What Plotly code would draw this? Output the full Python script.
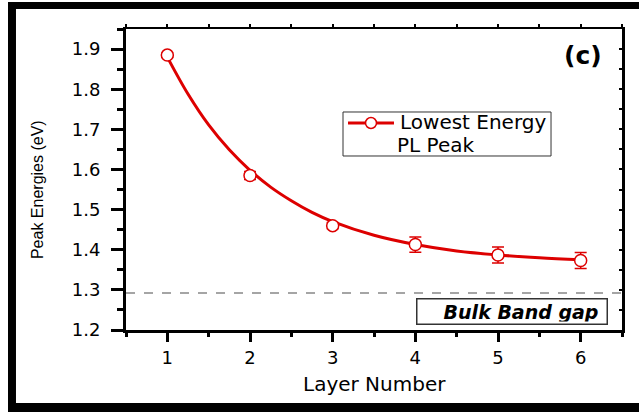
import plotly.graph_objects as go

# Data
layers = [1, 2, 3, 4, 5, 6]
peak_energy = [1.885, 1.585, 1.460, 1.413, 1.387, 1.373]
peak_err = [0.005, 0.010, 0.008, 0.019, 0.020, 0.020]

# Fitted curve
fit_x = [1, 1.25, 1.5, 1.75, 2, 2.25, 2.5, 2.75, 3, 3.5, 4, 4.5, 5, 5.5, 6]
fit_y = [1.880, 1.788, 1.711, 1.649, 1.598, 1.556, 1.522, 1.493, 1.470,
         1.436, 1.413, 1.397, 1.387, 1.380, 1.375]

bulk_gap = 1.292

x_ticks = [1, 2, 3, 4, 5, 6]
y_ticks = [1.2, 1.3, 1.4, 1.5, 1.6, 1.7, 1.8, 1.9]

legend_lines = ["Lowest Energy", "PL Peak"]

RED = "#dd0000"
WIDE = "DejaVu Sans, Verdana, sans-serif"
NARROW = "Liberation Sans, Arial, sans-serif"

fig = go.Figure()

fig.add_trace(go.Scatter(
    x=fit_x, y=fit_y, mode="lines", line=dict(color=RED, width=3, shape="spline"),
    showlegend=False, hoverinfo="skip"))

fig.add_trace(go.Scatter(
    x=layers, y=peak_energy, mode="markers", name=" ".join(legend_lines),
    marker=dict(symbol="circle", size=12, color="white", line=dict(width=1.5, color=RED)),
    error_y=dict(type="data", array=peak_err, color=RED, thickness=1.5, width=6),
    showlegend=False))

# dashed bulk band-gap line
fig.add_shape(type="line", xref="paper", x0=0, x1=1, yref="y", y0=bulk_gap, y1=bulk_gap,
              line=dict(color="#888888", width=1.5, dash="dash"))

# outer frame (black border)
fig.add_shape(type="rect", xref="paper", yref="paper", x0=-0.2379, x1=-0.2218,
              y0=-0.2724, y1=1.0897, fillcolor="black", line=dict(width=0))
fig.add_shape(type="rect", xref="paper", yref="paper", x0=-0.2379, x1=1.0343,
              y0=1.0664, y1=1.0897, fillcolor="black", line=dict(width=0))
fig.add_shape(type="rect", xref="paper", yref="paper", x0=-0.2379, x1=1.0343,
              y0=-0.2724, y1=-0.2425, fillcolor="black", line=dict(width=0))

# legend box (drawn by hand to match the original's proportions)
fig.add_shape(type="rect", xref="paper", yref="paper", x0=0.4375, x1=0.8569,
              y0=0.5781, y1=0.7243, fillcolor="white", line=dict(color="#333333", width=1))
fig.add_shape(type="line", xref="paper", yref="paper", x0=0.4476, x1=0.5403,
              y0=0.6877, y1=0.6877, line=dict(color=RED, width=3))
fig.add_shape(type="circle", xref="paper", yref="paper", x0=0.4829, x1=0.5050,
              y0=0.6694, y1=0.7060, fillcolor="white", line=dict(color=RED, width=1.5))
fig.add_annotation(xref="paper", yref="paper", x=0.5484, y=0.6910, xanchor="left", yanchor="middle",
                   text=legend_lines[0], showarrow=False,
                   font=dict(family=WIDE, size=20, color="black"))
fig.add_annotation(xref="paper", yref="paper", x=0.5423, y=0.6146, xanchor="left", yanchor="middle",
                   text=legend_lines[1], showarrow=False,
                   font=dict(family=WIDE, size=20, color="black"))

fig.add_annotation(xref="paper", yref="paper", x=0.921, y=0.913, xanchor="center", yanchor="middle",
                   text="<b>(c)</b>", showarrow=False,
                   font=dict(family=WIDE, size=25, color="black"))

fig.add_annotation(xref="paper", yref="paper", x=0.7782, y=0.0615, xanchor="center", yanchor="middle",
                   text="<b><i>Bulk Band gap</i></b>&nbsp;", showarrow=False,
                   font=dict(family=WIDE, size=19, color="black"),
                   bordercolor="#333333", borderwidth=1.5, borderpad=2, width=185, height=20,
                   align="right", bgcolor="white")

# axis titles
fig.add_annotation(xref="paper", yref="paper", x=0.5, y=-0.179, xanchor="center", yanchor="middle",
                   text="Layer Number", showarrow=False,
                   font=dict(family=WIDE, size=20, color="black"))
fig.add_annotation(xref="paper", yref="paper", x=-0.1794, y=0.465, xanchor="center", yanchor="middle",
                   text="Peak Energies (eV)", textangle=-90, showarrow=False,
                   font=dict(family=NARROW, size=16, color="black"))

axis_font = dict(family=WIDE, size=18, color="black")

fig.update_layout(
    width=639, height=412,
    margin=dict(l=126, r=17, t=29, b=82, autoexpand=False),
    paper_bgcolor="white", plot_bgcolor="white",
    font=dict(family=WIDE, color="black"),
    showlegend=False,
    xaxis=dict(range=[0.5, 6.5], tickvals=x_ticks, ticktext=[str(v) for v in x_ticks],
               automargin=False,
               showgrid=False, zeroline=False, showline=True, linewidth=3, linecolor="black",
               ticks="outside", ticklen=9, tickwidth=3, tickcolor="black", ticklabelstandoff=0,
               minor=dict(dtick=0.5, tick0=0.5, ticks="outside", ticklen=4, tickwidth=3, tickcolor="black"),
               tickfont=axis_font),
    yaxis=dict(range=[1.2, 1.95], tickvals=y_ticks, ticktext=[f"{v:.1f}" for v in y_ticks],
               automargin=False,
               showgrid=False, zeroline=False, showline=True, linewidth=3, linecolor="black",
               ticks="outside", ticklen=12, tickwidth=3, tickcolor="black", ticklabelstandoff=7,
               minor=dict(dtick=0.05, tick0=1.2, ticks="outside", ticklen=6, tickwidth=3, tickcolor="black"),
               tickfont=axis_font),
    xaxis2=dict(overlaying="x", side="top", range=[0.5, 6.5], dtick=0.5, tick0=0.5,
                automargin=False,
                showticklabels=False, showgrid=False, zeroline=False, showline=True,
                linewidth=2, linecolor="black", ticks="outside", ticklen=3, tickwidth=1.5,
                tickcolor="black", anchor="y"),
    yaxis2=dict(overlaying="y", side="right", range=[1.2, 1.95], dtick=0.05, tick0=1.2,
                automargin=False,
                showticklabels=False, showgrid=False, zeroline=False, showline=True,
                linewidth=3, linecolor="black", ticks="inside", ticklen=3, tickwidth=1.5,
                tickcolor="black", anchor="x"),
)

# empty traces that switch on the mirror axes
fig.add_trace(go.Scatter(x=[None], y=[None], xaxis="x2", yaxis="y", showlegend=False))
fig.add_trace(go.Scatter(x=[None], y=[None], xaxis="x", yaxis="y2", showlegend=False))

fig.write_html(
    "out.html", config={"displayModeBar": False},
    post_script=(
        "var d=document.documentElement,b=document.body;"
        "d.style.margin='0';b.style.margin='0';b.style.padding='0';"
        "d.style.overflow='hidden';b.style.overflow='hidden';"
        "d.style.scrollbarWidth='none';b.style.scrollbarWidth='none';"
        "b.style.height='412px';d.style.height='412px';"
    ))
